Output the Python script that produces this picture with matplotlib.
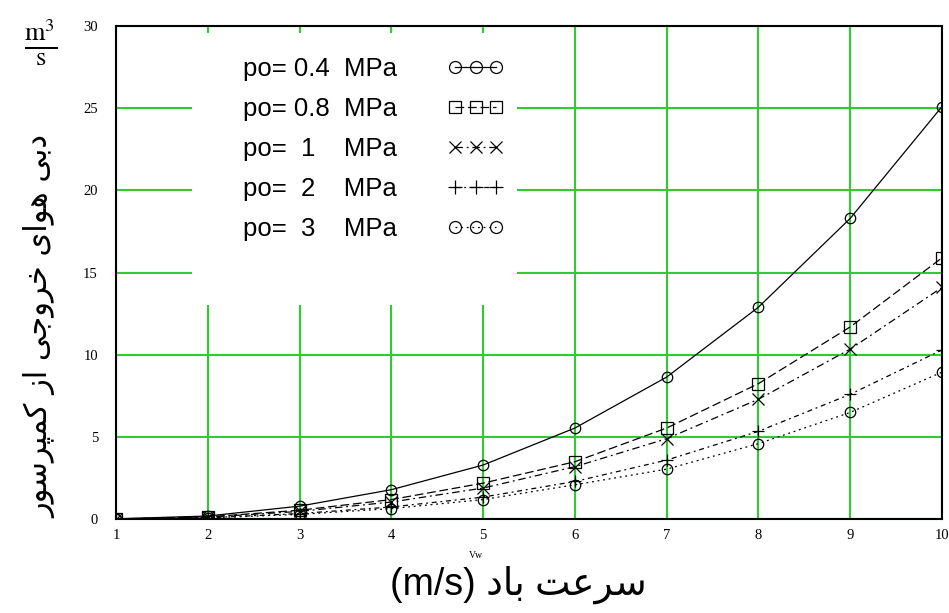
import matplotlib
matplotlib.use("Agg")
import matplotlib.pyplot as plt
from matplotlib.patches import Rectangle
from matplotlib.lines import Line2D

# DATA
vw = [1, 2, 3, 4, 5, 6, 7, 8, 9, 10]
q_04 = [0.03, 0.2, 0.8, 1.8, 3.3, 5.55, 8.65, 12.9, 18.3, 25.1]
q_08 = [0.02, 0.15, 0.55, 1.2, 2.2, 3.5, 5.55, 8.25, 11.7, 15.9]
q_1 = [0.02, 0.13, 0.48, 1.05, 1.9, 3.2, 4.9, 7.3, 10.35, 14.1]
q_2 = [0.01, 0.09, 0.35, 0.75, 1.35, 2.3, 3.6, 5.35, 7.6, 10.3]
q_3 = [0.01, 0.08, 0.3, 0.65, 1.2, 2.1, 3.05, 4.6, 6.5, 8.95]
labels = ["po= 0.4  MPa", "po= 0.8  MPa", "po=  1    MPa", "po=  2    MPa", "po=  3    MPa"]
x_ticks = [1, 2, 3, 4, 5, 6, 7, 8, 9, 10]
y_ticks = [0, 5, 10, 15, 20, 25, 30]

ylabel_fa = "دبی هوای خروجی از کمپرسور"
xlabel_fa = "سرعت باد"

# simple arabic/persian shaping (matplotlib has no text shaping)
FORMS = {
    "ا": ("\uFE8D", "\uFE8E", None, None),
    "ب": ("\uFE8F", "\uFE90", "\uFE91", "\uFE92"),
    "ت": ("\uFE95", "\uFE96", "\uFE97", "\uFE98"),
    "ج": ("\uFE9D", "\uFE9E", "\uFE9F", "\uFEA0"),
    "خ": ("\uFEA5", "\uFEA6", "\uFEA7", "\uFEA8"),
    "د": ("\uFEA9", "\uFEAA", None, None),
    "ر": ("\uFEAD", "\uFEAE", None, None),
    "ز": ("\uFEAF", "\uFEB0", None, None),
    "س": ("\uFEB1", "\uFEB2", "\uFEB3", "\uFEB4"),
    "ع": ("\uFEC9", "\uFECA", "\uFECB", "\uFECC"),
    "م": ("\uFEE1", "\uFEE2", "\uFEE3", "\uFEE4"),
    "ه": ("\uFEE9", "\uFEEA", "\uFEEB", "\uFEEC"),
    "و": ("\uFEED", "\uFEEE", None, None),
    "پ": ("\uFB56", "\uFB57", "\uFB58", "\uFB59"),
    "ک": ("\uFB8E", "\uFB8F", "\uFB90", "\uFB91"),
    "ی": ("\uFBFC", "\uFBFD", "\uFBFE", "\uFBFF"),
}


def shape(s):
    out = []
    for i, ch in enumerate(s):
        if ch not in FORMS:
            out.append(ch)
            continue
        prev = s[i - 1] if i > 0 else ""
        nxt = s[i + 1] if i + 1 < len(s) else ""
        jp = prev in FORMS and FORMS[prev][2] is not None
        jn = nxt in FORMS and FORMS[ch][2] is not None
        iso, fin, ini, med = FORMS[ch]
        if jp and jn:
            out.append(med)
        elif jp:
            out.append(fin)
        elif jn:
            out.append(ini)
        else:
            out.append(iso)
    return "".join(reversed(out))


fig = plt.figure(figsize=(9.49, 6.13), dpi=100)
ax = fig.add_axes([116 / 949, 1 - 519.3 / 613, 826 / 949, 493.3 / 613])

styles = [
    dict(ls="-", marker="o", ms=7.5),
    dict(ls=(0, (7, 3)), marker="s", ms=8),
    dict(ls=(0, (6, 3, 1.5, 3)), marker="x", ms=8),
    dict(ls=(0, (4, 3, 1.5, 3)), marker="+", ms=9),
    dict(ls=(0, (1.5, 3)), marker="o", ms=7.5),
]
series = [q_04, q_08, q_1, q_2, q_3]

for q, st in zip(series, styles):
    ax.plot(vw, q, color="black", lw=0.9, ls=st["ls"], marker=st["marker"],
            ms=st["ms"], mfc="none", mec="black", mew=0.9, zorder=3)

ax.set_xlim(1, 10)
ax.set_ylim(0, 30)
ax.set_xticks(x_ticks)
ax.set_yticks(y_ticks)
ax.set_axisbelow(True)
ax.grid(True, color="#2ecc2e", lw=1.5)
ax.tick_params(length=0, labelsize=10.5)
ax.tick_params(axis="y", pad=13)
ax.tick_params(axis="x", pad=7)
for lab in ax.get_xticklabels() + ax.get_yticklabels():
    lab.set_fontfamily("Liberation Serif")
for sp in ax.spines.values():
    sp.set_linewidth(1.5)
    sp.set_zorder(4)

# white box behind legend
ax.add_patch(Rectangle((0.092, 0.434), 0.393, 0.551, transform=ax.transAxes,
                       facecolor="white", edgecolor="none", zorder=1))

handles = [Line2D([], [], color="black", lw=0.9, ls=st["ls"], marker=st["marker"],
                  ms=st["ms"] * 1.15, mfc="none", mec="black", mew=0.9)
           for st in styles]
leg = ax.legend(handles, labels, loc="upper left", bbox_to_anchor=(0.1538, 0.937),
                frameon=False, markerfirst=False, numpoints=3, handlelength=2.2,
                handletextpad=1.97, labelspacing=0.62, borderpad=0, borderaxespad=0,
                prop={"family": "Liberation Sans", "size": 18.5})

# axis labels
fig.text(40 / 949, 1 - 327 / 613, shape(ylabel_fa), rotation=90, fontsize=22,
         family="DejaVu Sans", ha="center", va="center")
fig.text(41 / 949, 1 - 42 / 613, r"$\frac{\mathrm{m}^3}{\mathrm{s}}$", fontsize=27,
         ha="center", va="center", math_fontfamily="stix")
fig.text(518 / 949, 1 - 585 / 613, "(m/s) " + shape(xlabel_fa), fontsize=27,
         family=["Liberation Sans", "DejaVu Sans"], ha="center", va="center")
fig.text(476 / 949, 1 - 556 / 613, "Vw", fontsize=7, family="Liberation Serif",
         ha="center", va="center")

fig.savefig("out.png", dpi=100)
